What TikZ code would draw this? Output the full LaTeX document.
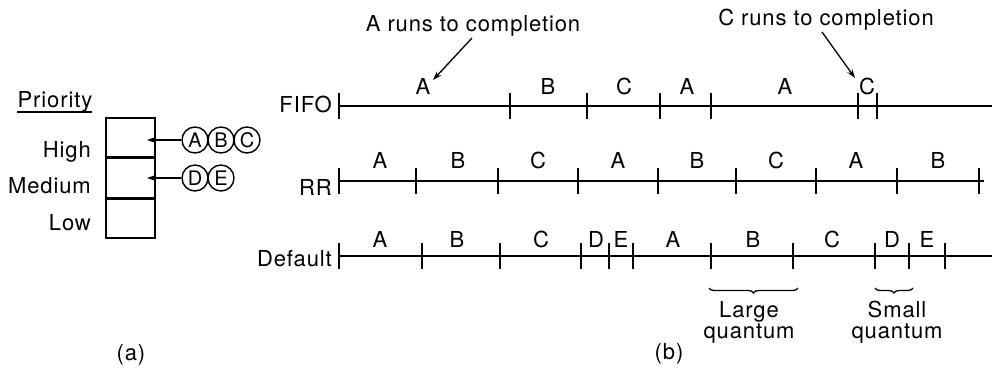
\documentclass[tikz,border=0pt]{standalone}
\usepackage{fontspec}
\setmainfont{TeX Gyre Heros}[LetterSpace=4]
\usetikzlibrary{arrows.meta,decorations.pathreplacing}
\begin{document}
\begin{tikzpicture}[x=1pt,y=-1pt,
  lbl/.style={font=\fontsize{22}{24}\selectfont, inner sep=0pt},
  seg/.style={lbl, anchor=base},
  tl/.style={line width=1.8pt},
  tk/.style={line width=1.4pt},
  pr/.style={circle, draw, line width=1.4pt, minimum size=26pt, inner sep=0pt, font=\fontsize{20}{20}\selectfont},
  arr/.style={-{Stealth[length=9pt,width=6pt]}, line width=1.3pt},
  brc/.style={decorate, decoration={brace, mirror, amplitude=5pt}, line width=1.3pt}
]
\useasboundingbox (0,0) rectangle (996,384);

% ---------- (a) priority queues ----------
\node[lbl, anchor=base] (prio) at (55,107) {Priority};
\coordinate (ul1) at (17,112);
\coordinate (ul2) at (92,112);
\draw[line width=1.3pt] (ul1) -- (ul2);

\node[draw, line width=1.7pt, minimum width=49pt, minimum height=39pt, inner sep=0pt, anchor=north west] (hi) at (105,117) {};
\node[draw, line width=1.7pt, minimum width=49pt, minimum height=39pt, inner sep=0pt, anchor=north] (me) at (hi.south) {};
\node[draw, line width=1.7pt, minimum width=49pt, minimum height=39pt, inner sep=0pt, anchor=north] (lo) at (me.south) {};

\node[lbl, anchor=base east] (thigh) at (91,157) {High};
\node[lbl, anchor=base east] (tmed) at (91,193) {Medium};
\node[lbl, anchor=base east] (tlow) at (91,230) {Low};

\node[pr] (pa) at (195,140) {A};
\node[pr] (pb) at (221,140) {B};
\node[pr] (pc) at (247,140) {C};
\node[pr] (pd) at (195,178) {D};
\node[pr] (pe) at (221,178) {E};
\coordinate (ha) at (147,140);
\coordinate (ma) at (147,178);
\draw[arr] (pa.west) -- (ha);
\draw[arr] (pd.west) -- (ma);

\node[lbl] (capa) at (131,355) {(a)};

% ---------- (b) timelines ----------
% FIFO
\node[lbl, anchor=east] (lfifo) at (332,104) {FIFO};
\coordinate (fs) at (339,106);
\coordinate (fe) at (992,106);
\draw[tl] (fs) -- (fe);
\foreach \x [count=\i] in {339,510,587,660,711,858,877} {
  \coordinate (f\i) at (\x,106);
  \draw[tk] ([yshift=13pt]f\i) -- ([yshift=-13pt]f\i);
}
\foreach \x/\t [count=\i] in {423/A,548/B,624/C,687/A,785/A,867/C} {
  \node[seg] (fl\i) at (\x,94) {\t};
}

% RR
\node[lbl, anchor=east] (lrr) at (332,187) {RR};
\coordinate (rs) at (339,181);
\coordinate (re) at (984,181);
\draw[tl] (rs) -- (re);
\foreach \x [count=\i] in {339,416,498,578,658,736,816,897,979} {
  \coordinate (r\i) at (\x,181);
  \draw[tk] ([yshift=13pt]r\i) -- ([yshift=-13pt]r\i);
}
\foreach \x/\t [count=\i] in {380/A,458/B,538/C,618/A,697/B,776/C,856/A,938/B} {
  \node[seg] (rl\i) at (\x,168) {\t};
}

% Default
\node[lbl, anchor=east] (ldef) at (332,259) {Default};
\coordinate (ds) at (339,256);
\coordinate (de) at (992,256);
\draw[tl] (ds) -- (de);
\foreach \x [count=\i] in {339,422,500,581,609,633,711,793,875,909,945} {
  \coordinate (d\i) at (\x,256);
  \draw[tk] ([yshift=13pt]d\i) -- ([yshift=-13pt]d\i);
}
\foreach \x/\t [count=\i] in {380/A,457/B,541/C,596/D,621/E,673/A,753/B,832/C,892/D,927/E} {
  \node[seg] (dl\i) at (\x,247) {\t};
}

% completion annotations
\node[lbl] (acomp) at (473,26) {A runs to completion};
\coordinate (aa1) at (472,38);
\coordinate (aa2) at (433,80);
\draw[arr] (aa1) -- (aa2);
\node[lbl] (ccomp) at (826,20) {C runs to completion};
\coordinate (ca1) at (822,32);
\coordinate (ca2) at (855,78);
\draw[arr] (ca1) -- (ca2);

% braces
\coordinate (lb1) at (709,288);
\coordinate (lb2) at (798,288);
\draw[brc] (lb1) -- (lb2);
\coordinate (sb1) at (875,288);
\coordinate (sb2) at (913,288);
\draw[brc] (sb1) -- (sb2);
\node[seg] (large) at (749,317) {Large};
\node[seg] (lq) at (749,338) {quantum};
\node[seg] (small) at (897,317) {Small};
\node[seg] (sq) at (897,338) {quantum};

\node[lbl] (capb) at (669,354) {(b)};
\end{tikzpicture}
\end{document}
